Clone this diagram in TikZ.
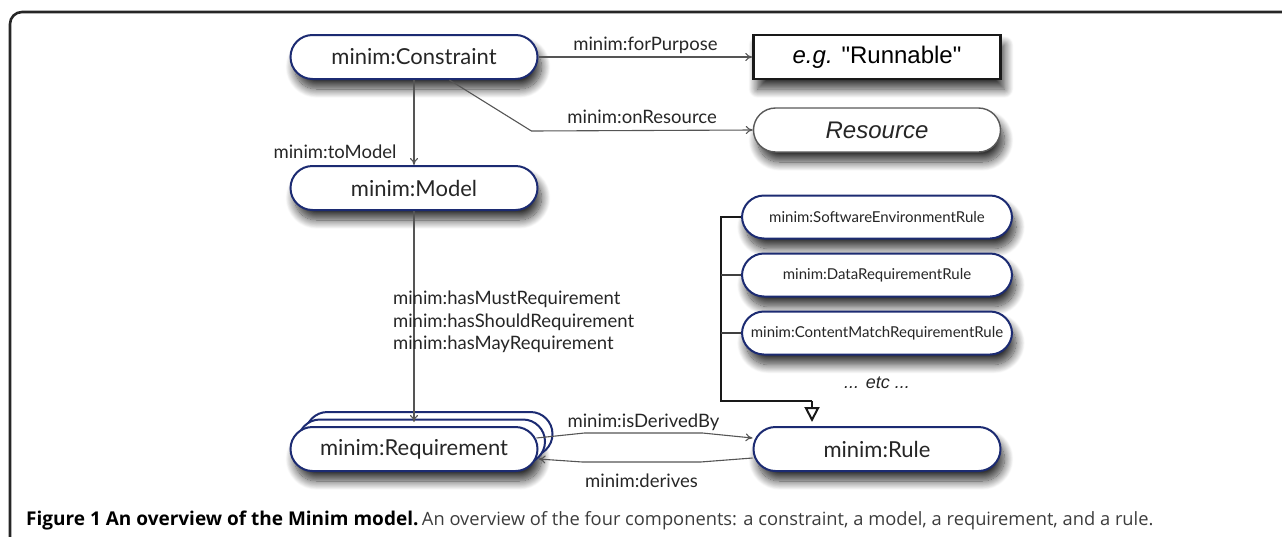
\documentclass[tikz,border=0pt]{standalone}
\usepackage{fontspec}
\setmainfont{Lato}
\newfontfamily\helv{Liberation Sans}
\newfontfamily\capfont{Open Sans}
\usetikzlibrary{shapes,arrows,arrows.meta,positioning,calc,shadows,shadows.blur}
\definecolor{pillblue}{HTML}{1C2B72}
\definecolor{linegray}{HTML}{555555}
\definecolor{capgray}{HTML}{3C3C3C}
\tikzstyle{pill} = [rectangle, draw=pillblue, line width=2pt, fill=white,
    rounded corners=22pt, minimum width=247pt, minimum height=44pt,
    text=black!85, font=\fontsize{22}{26}\selectfont,
    blur shadow={shadow xshift=4pt, shadow yshift=-10pt,
    shadow blur radius=9pt, shadow blur steps=15, shadow opacity=80}]
\tikzstyle{rulepill} = [pill, minimum width=270pt, minimum height=43pt,
    font=\fontsize{15}{18}\selectfont]
\tikzstyle{valbox} = [rectangle, draw=black!90, line width=2.4pt, fill=white,
    minimum width=247pt, minimum height=44pt, font=\helv\fontsize{24}{28}\selectfont,
    blur shadow={shadow xshift=4pt, shadow yshift=-10pt,
    shadow blur radius=9pt, shadow blur steps=15, shadow opacity=80}]
\tikzstyle{respill} = [pill, draw=black!65, line width=1.4pt,
    font=\helv\itshape\fontsize{24}{28}\selectfont]
\tikzstyle{lbl} = [inner sep=0pt, text=black!85, font=\fontsize{18.5}{22.5}\selectfont]
\tikzstyle{line} = [draw=linegray, line width=1.1pt, -{To[length=7pt,width=8pt]}]
\tikzstyle{gen} = [draw=black!90, line width=2pt]

\begin{document}
\begin{tikzpicture}[x=1pt, y=-1pt, auto]
    \useasboundingbox (0,0) rectangle (1282,536);
    \draw[line width=2.6pt, black!85, rounded corners=12pt] (10,540) -- (10,12) -- (1290,12);
    % Place nodes
    \node [pill] (con) at (414,57) {minim:Constraint};
    \node [pill, below of=con, node distance=131pt] (mod) {minim:Model};
    \node [pill, below of=mod, node distance=261pt,
        general shadow={fill=white, draw=pillblue, line width=2pt, shadow xshift=15pt, shadow yshift=15pt},
        general shadow={fill=white, draw=pillblue, line width=2pt, shadow xshift=7.5pt, shadow yshift=7.5pt}]
        (req) {minim:Requirement};
    \node [valbox, right of=con, node distance=463pt] (run) {{\itshape e.g.} "Runnable"};
    \node [respill, below of=run, node distance=73pt] (res) {Resource};
    \node [rulepill, below of=res, node distance=87pt] (swe) {minim:SoftwareEnvironmentRule};
    \node [rulepill, below of=swe, node distance=58pt] (dat) {minim:DataRequirementRule};
    \node [rulepill, below of=dat, node distance=58pt] (cmr) {minim:ContentMatchRequirementRule};
    \node [below of=cmr, node distance=50pt, text=black!85,
        font=\helv\itshape\fontsize{18}{22}\selectfont] (etc) {... etc ...};
    \node [pill, below of=etc, node distance=66pt] (rule) {minim:Rule};
    \node [anchor=west, inner sep=0pt, font=\capfont]
        (cap) at (26,521) {{\fontsize{19}{23}\selectfont\bfseries Figure 1 An overview of the Minim model.}
        \textcolor{capgray}{\fontsize{18.3}{22}\selectfont An overview of the four components: a constraint, a model, a requirement, and a rule.}};
    % Draw edges
    \path [line] (con) -- node [lbl, above=3pt, midway] {minim:forPurpose} (run);
    \path [line] (con.-33) -- ++(82,51) -- node [lbl, above=6pt, midway] {minim:onResource} (res.west);
    \path [line] (con) -- node [lbl, pos=0.85, left=17pt] {minim:toModel} (mod);
    \path [line] (mod) -- node [lbl, pos=0.525, anchor=west, xshift=-21.5pt, align=left]
        {minim:hasMustRequirement\\minim:hasShouldRequirement\\minim:hasMayRequirement} ($(req.north)+(0,-4)$);
    \path [line] ($(req.east)+(-2,-11)$) -- ++(48,-5) -- node [lbl, above=2pt, midway] {minim:isDerivedBy}
        ++(118,0) -- ($(rule.west)+(0,-11)$);
    \path [line] ($(rule.west)+(0,9)$) -- ++(-52,4) -- node [lbl, below=11pt, midway] {minim:derives}
        ++(-118,0) -- ($(req.east)+(0,10)$);
    % generalisation
    \coordinate (bus) at ($(swe.west)+(-20,0)$);
    \draw [gen] (swe.west) -- (bus) |- ($(rule.north)+(-65,-25)$)
        edge [-{Triangle[open,length=15pt,width=15pt]}] ($(rule.north)+(-65,-4)$);
    \draw [gen, black!75, line width=1.4pt] (dat.west) -- (bus |- dat.west);
    \draw [gen, black!75, line width=1.4pt] (cmr.west) -- (bus |- cmr.west);
\end{tikzpicture}
\end{document}
